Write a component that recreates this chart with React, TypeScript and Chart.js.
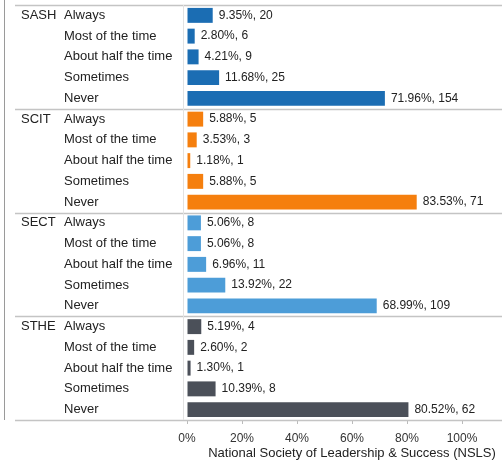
import React, { useEffect, useRef } from "react";
import { Chart, registerables } from "chart.js";

Chart.register(...registerables);

const groups = ["SASH", "SCIT", "SECT", "STHE"];
const responses = ["Always", "Most of the time", "About half the time", "Sometimes", "Never"];
const sashPct = [9.35, 2.8, 4.21, 11.68, 71.96];
const sashN = [20, 6, 9, 25, 154];
const scitPct = [5.88, 3.53, 1.18, 5.88, 83.53];
const scitN = [5, 3, 1, 5, 71];
const sectPct = [5.06, 5.06, 6.96, 13.92, 68.99];
const sectN = [8, 8, 11, 22, 109];
const sthePct = [5.19, 2.6, 1.3, 10.39, 80.52];
const stheN = [4, 2, 1, 8, 62];
const xTicks = [0, 20, 40, 60, 80, 100];
const xTitle = "National Society of Leadership & Success (NSLS)";
const groupColors = ["#1b6db3", "#f57f0e", "#4d9dd8", "#4b5059"];

const pctAll = [sashPct, scitPct, sectPct, sthePct];
const nAll = [sashN, scitN, sectN, stheN];

export default function App() {
  const ref = useRef<HTMLCanvasElement | null>(null);
  useEffect(() => {
    document.body.style.margin = "0";
    const labels: string[] = [];
    const values: number[] = [];
    const counts: number[] = [];
    const colors: string[] = [];
    groups.forEach((g, gi) => {
      responses.forEach((r, ri) => {
        labels.push(g + "|" + r);
        values.push(pctAll[gi][ri]);
        counts.push(nAll[gi][ri]);
        colors.push(groupColors[gi]);
      });
    });
    const font = "Liberation Sans, Arial, sans-serif";
    const plugin = {
      id: "decor",
      afterDraw(chart: any) {
        const ctx = chart.ctx;
        const ys = chart.scales.y;
        const xs = chart.scales.x;
        const area = chart.chartArea;
        const W = chart.width;
        ctx.save();
        // separators
        ctx.strokeStyle = "#c4c4c4";
        ctx.lineWidth = 1.5;
        const step = ys.getPixelForValue(1) - ys.getPixelForValue(0);
        for (let gi = 0; gi <= groups.length; gi++) {
          const y =
            gi < groups.length
              ? ys.getPixelForValue(gi * 5) - step / 2
              : ys.getPixelForValue(gi * 5 - 1) + step / 2;
          ctx.beginPath();
          ctx.moveTo(15, Math.round(y) + 0.5);
          ctx.lineTo(W, Math.round(y) + 0.5);
          ctx.stroke();
        }
        // left border
        ctx.strokeStyle = "#9a9a9a";
        ctx.lineWidth = 1;
        ctx.beginPath();
        ctx.moveTo(4.5, 0);
        ctx.lineTo(4.5, area.bottom);
        ctx.stroke();
        // faint column divider
        ctx.strokeStyle = "#e2e2e2";
        ctx.beginPath();
        ctx.moveTo(183.5, area.top);
        ctx.lineTo(183.5, area.bottom);
        ctx.stroke();
        // labels
        ctx.fillStyle = "#222";
        ctx.textBaseline = "middle";
        ctx.textAlign = "left";
        labels.forEach((l, i) => {
          const y = ys.getPixelForValue(i);
          const gi = Math.floor(i / 5);
          const ri = i % 5;
          ctx.font = "13px " + font;
          if (ri === 0) ctx.fillText(groups[gi], 21, y);
          ctx.fillText(responses[ri], 64, y);
          ctx.font = "12px " + font;
          const xe = xs.getPixelForValue(values[i]);
          ctx.fillText(values[i].toFixed(2) + "%, " + counts[i], xe + 6, y);
        });
        // axis title
        ctx.font = "13px " + font;
        ctx.textAlign = "center";
        ctx.fillStyle = "#222";
        ctx.fillText(xTitle, 352, 453);
        ctx.restore();
      },
    };
    const chart = new Chart(ref.current as HTMLCanvasElement, {
      type: "bar",
      data: {
        labels,
        datasets: [
          {
            data: values,
            backgroundColor: colors,
            barPercentage: 0.72,
            categoryPercentage: 1,
          },
        ],
      },
      options: {
        indexAxis: "y",
        animation: false,
        responsive: false,
        maintainAspectRatio: false,
        layout: { padding: { top: 5, right: 40, left: 0, bottom: 0 } },
        plugins: { legend: { display: false }, tooltip: { enabled: false } },
        scales: {
          y: {
            type: "category",
            ticks: { display: false },
            grid: { display: false },
            border: { display: false },
            afterFit: (s: any) => {
              s.width = 187;
            },
          },
          x: {
            min: 0,
            max: 100,
            afterBuildTicks: (s: any) => {
              s.ticks = xTicks.map((v) => ({ value: v }));
            },
            ticks: {
              callback: (v: any) => v + "%",
              color: "#333",
              font: { size: 12, family: font },
              padding: 7,
              maxRotation: 0,
            },
            grid: { drawOnChartArea: false, tickLength: 4, color: "#bbb" },
            border: { display: false },
            afterFit: (s: any) => {
              s.height = 47;
            },
          },
        },
      } as any,
      plugins: [plugin],
    });
    return () => chart.destroy();
  }, []);
  return <canvas ref={ref} width={502} height={467} style={{ display: "block" }} />;
}
